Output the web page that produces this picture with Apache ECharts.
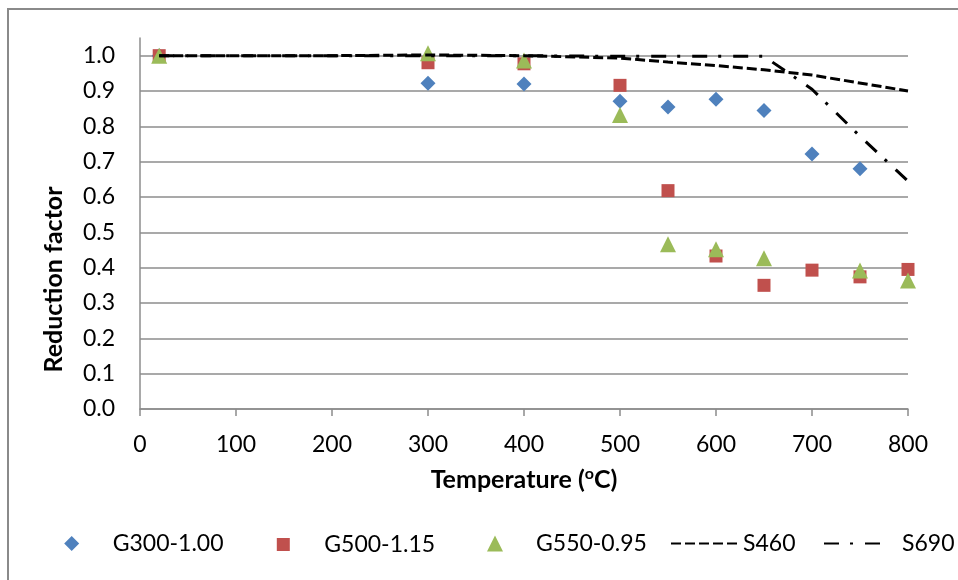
<!DOCTYPE html>
<html><head><meta charset="utf-8">
<script src="https://cdn.jsdelivr.net/npm/echarts@6/dist/echarts.min.js"></script>
<style>html,body{margin:0;padding:0;background:#fff}#c{width:958px;height:580px}</style>
</head><body><div id="c"></div>
<script>
// ---- data ----
const g300Temps  = [20, 300, 400, 500, 550, 600, 650, 700, 750];
const g300Values = [1.0, 0.922, 0.920, 0.871, 0.855, 0.877, 0.845, 0.722, 0.680];
const g500Temps  = [20, 300, 400, 500, 550, 600, 650, 700, 750, 800];
const g500Values = [1.0, 0.980, 0.977, 0.916, 0.618, 0.433, 0.350, 0.393, 0.374, 0.395];
const g550Temps  = [20, 300, 400, 500, 550, 600, 650, 750, 800];
const g550Values = [1.0, 1.007, 0.986, 0.832, 0.466, 0.452, 0.427, 0.392, 0.364];
const s460Temps  = [20, 100, 200, 300, 400, 500, 550, 600, 650, 700, 800];
const s460Values = [1.0, 1.0, 1.0, 1.002, 1.0, 0.993, 0.982, 0.972, 0.960, 0.945, 0.900];
const s690Temps  = [20, 100, 200, 300, 400, 500, 600, 650, 700, 750, 800];
const s690Values = [1.0, 1.0, 1.0, 1.0, 1.0, 0.998, 0.998, 0.998, 0.905, 0.772, 0.645];
const xTickLabels = ['0', '100', '200', '300', '400', '500', '600', '700', '800'];
const yTickLabels = ['0.0', '0.1', '0.2', '0.3', '0.4', '0.5', '0.6', '0.7', '0.8', '0.9', '1.0'];
const seriesNames = ['G300-1.00', 'G500-1.15', 'G550-0.95', 'S460', 'S690'];

const pairs = (xs, ys) => xs.map((x, i) => [x, ys[i]]);
const FONT = 'Lato';
const GRID_GRAY = '#8c8c8c';

const chart = echarts.init(document.getElementById('c'), null, {renderer: 'canvas'});

const legendText = (pad) => ({fontFamily: FONT, fontSize: 23, color: '#000', padding: [0, 0, 0, pad]});
const legendBase = {orient: 'horizontal', padding: 0, itemGap: 0, selectedMode: false, top: 532};

chart.setOption({
  backgroundColor: '#fff',
  animation: false,
  graphic: [{
    type: 'rect', z: -10, silent: true,
    shape: {x: 8, y: 9, width: 1000, height: 1000},
    style: {fill: 'none', stroke: '#8a8a8a', lineWidth: 2}
  }],
  grid: {left: 140, right: 50, top: 38, bottom: 171, containLabel: false},
  xAxis: {
    type: 'value', min: 0, max: 800, interval: 100,
    axisLine: {show: true, lineStyle: {color: GRID_GRAY, width: 1.5}},
    axisTick: {show: true, inside: false, length: 7, lineStyle: {color: GRID_GRAY, width: 1.5}},
    splitLine: {show: false},
    axisLabel: {
      margin: 24, fontFamily: FONT, fontSize: 23, color: '#000',
      formatter: v => xTickLabels[Math.round(v / 100)] ?? ''
    },
    name: '{a|Temperature (}{s|o}{a|C)}',
    nameLocation: 'middle', nameGap: 57,
    nameTextStyle: {
      rich: {
        a: {fontFamily: FONT, fontSize: 25, fontWeight: 'bold', color: '#000', lineHeight: 28},
        s: {fontFamily: FONT, fontSize: 16, fontWeight: 'bold', color: '#000', lineHeight: 19, verticalAlign: 'top'}
      }
    }
  },
  yAxis: {
    type: 'value', min: 0, max: 1.05, interval: 0.1,
    axisLine: {show: true, lineStyle: {color: GRID_GRAY, width: 1.5}},
    axisTick: {show: false},
    splitLine: {show: true, showMaxLine: false, lineStyle: {color: GRID_GRAY, width: 1.5}},
    axisLabel: {
      margin: 25, fontFamily: FONT, fontSize: 23, color: '#000', showMaxLabel: false,
      formatter: v => { const i = Math.round(v * 10); return (Math.abs(v * 10 - i) < 1e-6 && yTickLabels[i]) ? yTickLabels[i] : ''; }
    },
    name: 'Reduction factor',
    nameLocation: 'middle', nameGap: 74,
    nameTextStyle: {fontFamily: FONT, fontSize: 25, fontWeight: 'bold', color: '#000', padding: [0, 112, 0, 0]}
  },
  legend: [
    Object.assign({}, legendBase, {data: [seriesNames[0]], left: 64.2, itemWidth: 15, itemHeight: 15, textStyle: legendText(28.5)}),
    Object.assign({}, legendBase, {data: [seriesNames[1]], left: 276.8, itemWidth: 13, itemHeight: 13, top: 533, textStyle: legendText(29.5)}),
    Object.assign({}, legendBase, {data: [seriesNames[2]], left: 487, itemWidth: 16, itemHeight: 16, textStyle: legendText(28)}),
    Object.assign({}, legendBase, {data: [seriesNames[3]], left: 670, itemWidth: 70, itemHeight: 14, itemStyle: {opacity: 0}, textStyle: legendText(-3)}),
    Object.assign({}, legendBase, {data: [seriesNames[4]], left: 823, itemWidth: 58, itemHeight: 14, itemStyle: {opacity: 0}, textStyle: legendText(15)})
  ],
  series: [
    {name: seriesNames[0], type: 'scatter', symbol: 'diamond', symbolSize: [15, 15],
     itemStyle: {color: '#4F81BD', opacity: 1}, data: pairs(g300Temps, g300Values)},
    {name: seriesNames[1], type: 'scatter', symbol: 'rect', symbolSize: 13,
     itemStyle: {color: '#C0504D', opacity: 1}, data: pairs(g500Temps, g500Values)},
    {name: seriesNames[2], type: 'scatter', symbol: 'triangle', symbolSize: 16,
     itemStyle: {color: '#9BBB59', opacity: 1}, data: pairs(g550Temps, g550Values)},
    {name: seriesNames[3], type: 'line', symbol: 'none', showSymbol: false,
     itemStyle: {color: '#000'},
     lineStyle: {color: '#000', width: 3, type: [10, 4]}, data: pairs(s460Temps, s460Values)},
    {name: seriesNames[4], type: 'line', symbol: 'none', showSymbol: false,
     itemStyle: {color: '#000'},
     lineStyle: {color: '#000', width: 3, type: [15, 11, 3, 12]}, data: pairs(s690Temps, s690Values)}
  ]
});
</script></body></html>
